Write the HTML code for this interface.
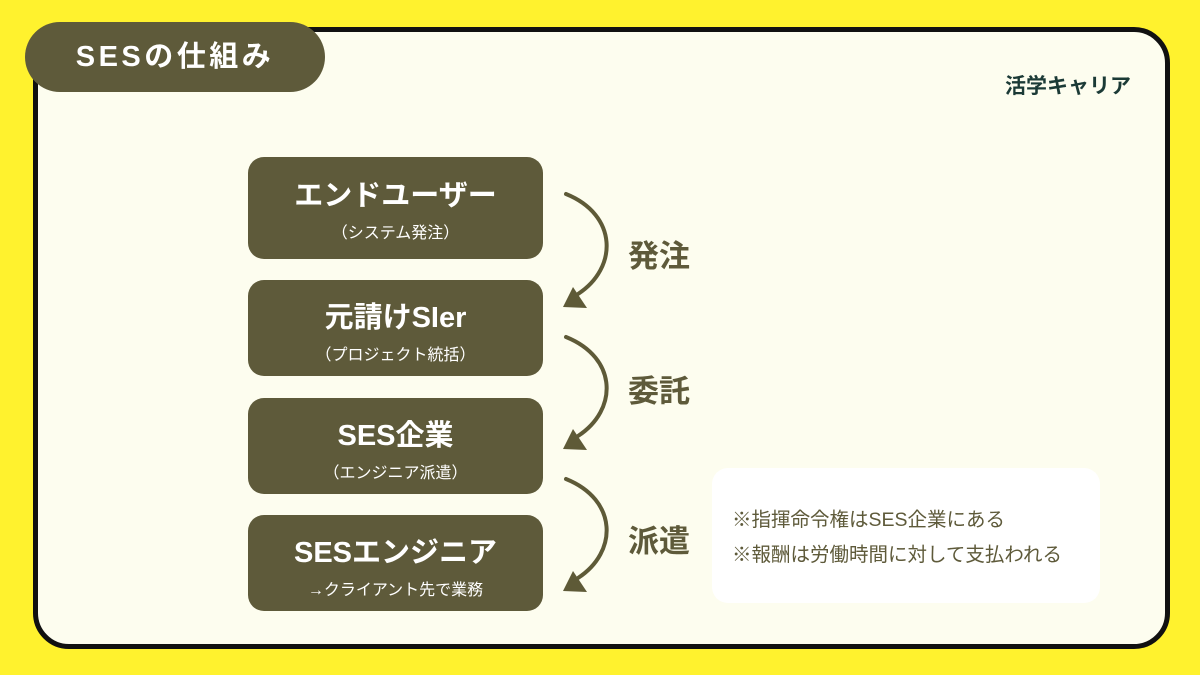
<!DOCTYPE html>
<html><head><meta charset="utf-8"><style>
body{margin:0;width:1200px;height:675px;background:#FFF22E;position:relative;overflow:hidden;font-family:"Liberation Sans","Noto Sans CJK JP",sans-serif}
.card{position:absolute;left:33px;top:27px;width:1127px;height:612px;border:5px solid #111;border-radius:36px;background:#FDFDEF}
.title{position:absolute;left:25px;top:22px;width:300px;height:70px;border-radius:35px;background:#5E5A3A;color:#fff;font-weight:bold;font-size:29px;letter-spacing:3.5px;line-height:70px;text-align:center}
.logo{position:absolute;left:1005px;top:70px;font-size:21px;font-weight:bold;color:#1b3a36}
.box{position:absolute;left:248px;width:295px;background:#5E5A3A;border-radius:16px;color:#fff;text-align:center;font-weight:bold}
.box .m{font-size:29px;line-height:34px}
.box .s{font-size:16px;font-weight:normal;margin-top:6px}
.lbl{position:absolute;left:628px;font-size:31px;font-weight:bold;color:#5E5A3A}
.note{position:absolute;left:712px;top:468px;width:388px;height:135px;background:#fff;border-radius:16px;color:#5E5A3A;font-size:19.5px;line-height:35px;box-sizing:border-box;padding:35px 0 0 20px;white-space:nowrap}
</style></head><body>
<div class="card"></div>
<div class="title">SESの仕組み</div>
<div class="logo">活学キャリア</div>
<div class="box" style="top:157px;height:102px"><div class="m" style="margin-top:22px">エンドユーザー</div><div class="s">（システム発注）</div></div>
<div class="box" style="top:280px;height:96px"><div class="m" style="margin-top:21px">元請けSIer</div><div class="s">（プロジェクト統括）</div></div>
<div class="box" style="top:398px;height:96px"><div class="m" style="margin-top:21px">SES企業</div><div class="s">（エンジニア派遣）</div></div>
<div class="box" style="top:515px;height:96px"><div class="m" style="margin-top:21px">SESエンジニア</div><div class="s">→クライアント先で業務</div></div>
<svg width="1200" height="675" style="position:absolute;left:0;top:0">
<g fill="none" stroke="#5E5A37" stroke-width="4" stroke-linecap="round">
<path d="M566,194 C618,215 618,268 578,294"/>
<path d="M566,337 C618,358 618,410 578,436"/>
<path d="M566,479 C618,500 618,552 578,578"/>
</g>
<g fill="#5E5A37">
<polygon points="573,287 563,307 587,308"/>
<polygon points="573,429 563,449 587,450"/>
<polygon points="573,571 563,591 587,592"/>
</g>
</svg>
<div class="lbl" style="top:231px">発注</div>
<div class="lbl" style="top:366px">委託</div>
<div class="lbl" style="top:516px">派遣</div>
<div class="note">※指揮命令権はSES企業にある<br>※報酬は労働時間に対して支払われる</div>
</body></html>
